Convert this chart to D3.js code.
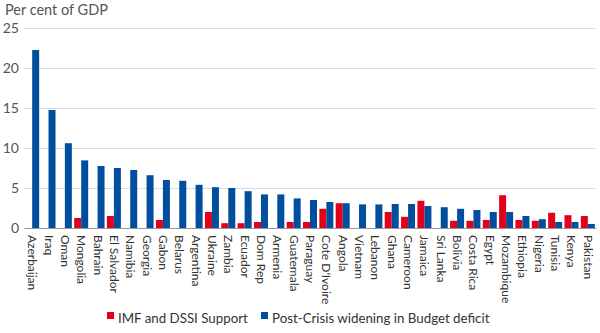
<!DOCTYPE html>
<html>
<head>
<meta charset="utf-8">
<script src="https://cdn.jsdelivr.net/npm/d3@7"></script>
<style>
  body { margin: 0; background: #fff; }
  text { font-family: "Lato", "Noto Sans", sans-serif; }
</style>
</head>
<body>
<div id="chart"></div>
<script>
// country order as in the chart (sorted by budget deficit widening)
const countries = ["Azerbaijan", "Iraq", "Oman", "Mongolia", "Bahrain", "El Salvador", "Namibia", "Georgia",
  "Gabon", "Belarus", "Argentina", "Ukraine", "Zambia", "Ecuador", "Dom Rep", "Armenia", "Guatemala",
  "Paraguay", "Cote D'Ivoire", "Angola", "Vietnam", "Lebanon", "Ghana", "Cameroon", "Jamaica", "Sri Lanka",
  "Bolivia", "Costa Rica", "Egypt", "Mozambique", "Ethiopia", "Nigeria", "Tunisia", "Kenya", "Pakistan"];

const imfSupport = [0, 0, 0, 1.25, 0, 1.5, 0, 0, 1.0, 0, 0, 2.0, 0.6, 0.6, 0.75, 0, 0.75,
  0.75, 2.4, 3.1, 0, 0, 2.0, 1.4, 3.4, 0, 0.9, 0.9, 1.0, 4.1, 1.0, 0.9, 1.9, 1.6, 1.5];

const deficitWidening = [22.25, 14.75, 10.6, 8.45, 7.75, 7.5, 7.25, 6.6, 6.0, 5.9, 5.4, 5.1, 5.0, 4.6, 4.2, 4.2, 3.7,
  3.5, 3.25, 3.1, 2.95, 2.95, 3.0, 3.0, 2.75, 2.6, 2.4, 2.25, 2.0, 2.0, 1.5, 1.1, 0.75, 0.75, 0.5];

const yTicks = [0, 5, 10, 15, 20, 25];

const seriesNames = ["IMF and DSSI Support", "Post-Crisis widening in Budget deficit"];
const seriesColors = ["#e2001a", "#004f9f"];

const chartWidth = 600, chartHeight = 333;
const margin = { top: 28, right: 4, bottom: 105, left: 24 };
const width = chartWidth - margin.left - margin.right;
const height = chartHeight - margin.top - margin.bottom;

const svg = d3.select("#chart").append("svg")
  .attr("width", chartWidth)
  .attr("height", chartHeight);

const g = svg.append("g")
  .attr("transform", "translate(" + margin.left + "," + margin.top + ")");

const xScale = d3.scaleBand().domain(countries).range([0, width]);
const yScale = d3.scaleLinear().domain([0, 25]).range([height, 0]);
const barWidth = 7;

// gridlines
g.append("g")
  .selectAll("line")
  .data(yTicks.filter(d => d > 0))
  .enter().append("line")
  .attr("x1", 0)
  .attr("x2", width)
  .attr("y1", d => yScale(d) + 0.5)
  .attr("y2", d => yScale(d) + 0.5)
  .attr("stroke", "#d7dce2")
  .attr("stroke-width", 1);

// y axis labels
const yAxis = g.append("g")
  .call(d3.axisLeft(yScale).tickValues(yTicks).tickSize(0).tickPadding(5));
yAxis.select(".domain").remove();
yAxis.selectAll("text")
  .attr("font-size", 14)
  .attr("fill", "#555")
  .style("font-family", "Lato, 'Noto Sans', sans-serif");

svg.append("text")
  .attr("x", 5)
  .attr("y", 15)
  .attr("font-size", 14.5)
  .attr("fill", "#555")
  .text("Per cent of GDP");

// bars: red on the left of band centre, blue on the right
g.selectAll(".bar-imf")
  .data(countries)
  .enter().append("rect")
  .attr("class", "bar-imf")
  .attr("x", d => xScale(d) + xScale.bandwidth() / 2 - barWidth)
  .attr("y", (d, i) => yScale(imfSupport[i]))
  .attr("width", barWidth)
  .attr("height", (d, i) => height - yScale(imfSupport[i]))
  .attr("fill", seriesColors[0]);

g.selectAll(".bar-def")
  .data(countries)
  .enter().append("rect")
  .attr("class", "bar-def")
  .attr("x", d => xScale(d) + xScale.bandwidth() / 2)
  .attr("y", (d, i) => yScale(deficitWidening[i]))
  .attr("width", barWidth)
  .attr("height", (d, i) => height - yScale(deficitWidening[i]))
  .attr("fill", seriesColors[1]);

// x axis
const xAxis = g.append("g")
  .attr("transform", "translate(0," + height + ")")
  .call(d3.axisBottom(xScale).tickSize(0).tickPadding(0));
xAxis.select(".domain").attr("stroke", "#999");
xAxis.selectAll("text")
  .attr("font-size", 12)
  .attr("fill", "#333")
  .attr("text-anchor", "start")
  .attr("dy", null)
  .attr("transform", "translate(-4,7) rotate(90)")
  .attr("y", 0)
  .attr("x", 0)
  .style("font-family", "Lato, 'Noto Sans', sans-serif");

// legend
const legend = svg.append("g").attr("transform", "translate(107,318)");
const legendX = [0, 154];
seriesNames.forEach((name, i) => {
  const item = legend.append("g").attr("transform", "translate(" + legendX[i] + ",0)");
  item.append("rect")
    .attr("x", 0).attr("y", -6)
    .attr("width", 7).attr("height", 7)
    .attr("fill", seriesColors[i]);
  item.append("text")
    .attr("x", 11)
    .attr("y", 5)
    .attr("font-size", 13.3)
    .attr("fill", "#333")
    .text(name);
});
</script>
</body>
</html>
